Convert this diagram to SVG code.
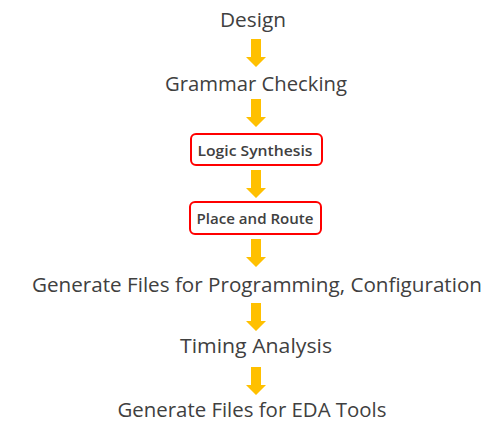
<svg xmlns="http://www.w3.org/2000/svg" xmlns:xlink="http://www.w3.org/1999/xlink" width="501" height="436" viewBox="0 0 501 436">
<style>
.t{font-family:"Open Sans","Noto Sans","Liberation Sans",sans-serif;fill:#404040;text-anchor:middle}
.big{font-size:20.5px}
.small{font-size:14.5px;font-weight:600}
.box{fill:#fff;stroke:#ff0000;stroke-width:2}
.arr{fill:#ffc000}
</style>
<defs>
<path id="a" d="M-5,0 H5 V18 H10 L0,28 L-10,18 H-5 Z"/>
</defs>
<rect width="501" height="436" fill="#fff"/>
<g id="connectors">
<use xlink:href="#a" class="arr" x="256" y="39"/>
<use xlink:href="#a" class="arr" x="256" y="99"/>
<use xlink:href="#a" class="arr" x="256" y="170"/>
<use xlink:href="#a" class="arr" x="256" y="239"/>
<use xlink:href="#a" class="arr" x="256" y="303"/>
<use xlink:href="#a" class="arr" x="256" y="367"/>
</g>
<g id="design"><text class="t big" x="253" y="27" textLength="66" lengthAdjust="spacingAndGlyphs">Design</text></g>
<g id="grammar"><text class="t big" x="256" y="91" textLength="182" lengthAdjust="spacingAndGlyphs">Grammar Checking</text></g>
<g id="logic"><rect class="box" x="191" y="134" width="131" height="31" rx="5"/><text class="t small" x="255" y="156" textLength="115" lengthAdjust="spacingAndGlyphs">Logic Synthesis</text></g>
<g id="place"><rect class="box" x="190" y="202" width="131" height="32" rx="5"/><text class="t small" x="255" y="224" textLength="117" lengthAdjust="spacingAndGlyphs">Place and Route</text></g>
<g id="genprog"><text class="t big" x="257" y="292" textLength="450" lengthAdjust="spacingAndGlyphs">Generate Files for Programming, Configuration</text></g>
<g id="timing"><text class="t big" x="256" y="353" textLength="152" lengthAdjust="spacingAndGlyphs">Timing Analysis</text></g>
<g id="geneda"><text class="t big" x="252" y="417" textLength="269" lengthAdjust="spacingAndGlyphs">Generate Files for EDA Tools</text></g>
</svg>
